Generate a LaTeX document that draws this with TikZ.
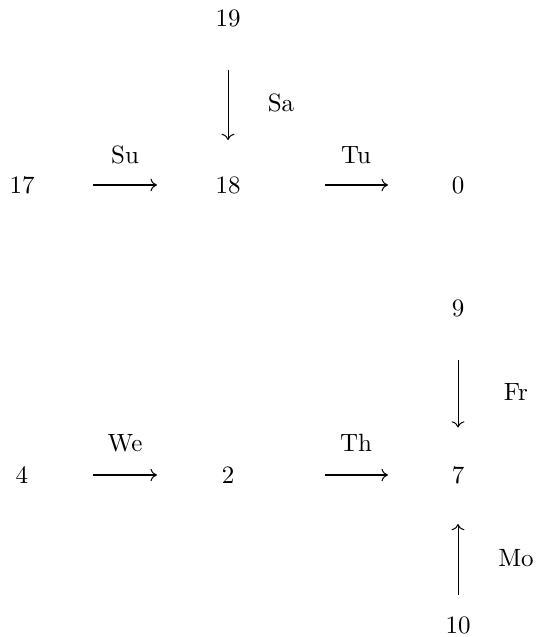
\documentclass[tikz,border=0pt]{standalone}
\usetikzlibrary{arrows.meta}
\begin{document}
\begin{tikzpicture}[x=0.4pt,y=-0.4pt,
  obj/.style={inner sep=0pt,anchor=center,font=\fontsize{10}{12}\selectfont},
  lab/.style={inner sep=0pt,anchor=center,font=\fontsize{10}{12}\selectfont},
  harr/.style={-{Computer Modern Rightarrow[line width=0.4pt,length=2.6pt,width=5pt]},line width=0.7pt},
  varr/.style={->,line width=0.4pt}]
\useasboundingbox (0,0) rectangle (536,637);
\node[obj] (n19) at (228,18) {19};
\node[obj] (n17) at (22,185) {17};
\node[obj] (n18) at (228,185) {18};
\node[obj] (n0) at (458,185) {0};
\node[obj] (n9) at (458,308) {9};
\node[obj] (n4) at (22,475) {4};
\node[obj] (n2) at (228,475) {2};
\node[obj] (n7) at (458,475) {7};
\node[obj] (n10) at (458,625) {10};
\draw[harr,shorten <=28.4pt,shorten >=28.4pt] (n17.center) -- (n18.center);
\draw[harr,shorten <=38.8pt,shorten >=28pt] (n18.center) -- (n0.center);
\draw[harr,shorten <=28.4pt,shorten >=28.4pt] (n4.center) -- (n2.center);
\draw[harr,shorten <=38.8pt,shorten >=28pt] (n2.center) -- (n7.center);
\draw[varr,shorten <=20.8pt,shorten >=18pt] (n19.center) -- (n18.center);
\draw[varr,shorten <=20.8pt,shorten >=19pt] (n9.center) -- (n7.center);
\draw[varr,shorten <=12pt,shorten >=19.6pt] (n10.center) -- (n7.center);
\node[lab] (lsu) at (125,155) {Su};
\node[lab] (ltu) at (356,155) {Tu};
\node[lab] (lwe) at (125,443) {We};
\node[lab] (lth) at (356,443) {Th};
\node[lab] (lsa) at (281,103) {Sa};
\node[lab] (lfr) at (516,392) {Fr};
\node[lab] (lmo) at (516,558) {Mo};
\end{tikzpicture}
\end{document}
